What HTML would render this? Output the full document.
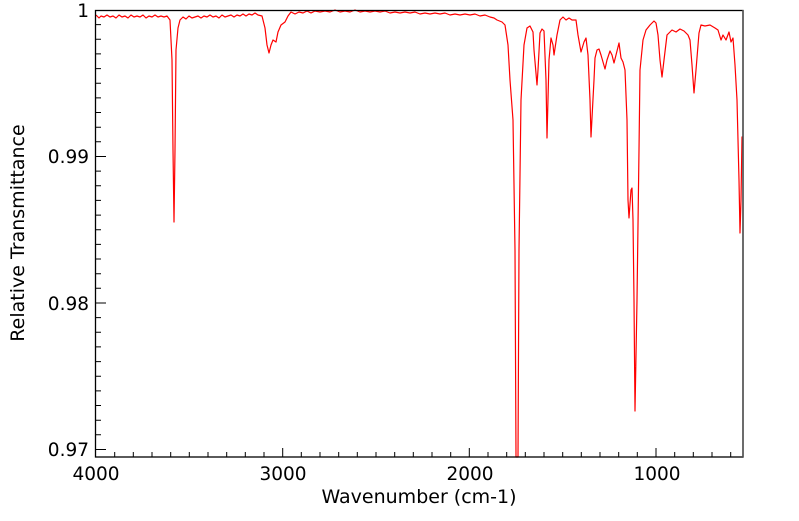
<!DOCTYPE html>
<html><head><style>
html,body{margin:0;padding:0;background:#fff;}
svg text{font-family:"DejaVu Sans","Liberation Sans",sans-serif;fill:#000;}
</style></head><body>
<svg width="799" height="516" xmlns="http://www.w3.org/2000/svg">
<path fill="none" stroke="#ff0000" stroke-width="1.2" stroke-linejoin="round" d="M96,15 L99,18 L101,16 L104,17 L107,15 L110,17 L113,16 L116,18 L119,15 L122,17 L125,16 L128,18 L131,15 L134,17 L137,16 L140,17 L143,15 L146,18 L149,16 L152,17 L155,15 L158,17 L161,16 L164,17 L167,16 L170,20 L172,60 L173,150 L174,222 L175,150 L176,50 L178,28 L180,20 L183,17 L186,19 L189,16 L192,18 L195,17 L198,16 L201,18 L204,16 L207,17 L210,15 L213,17 L216,16 L219,18 L222,15 L225,17 L228,16 L231,15 L234,17 L237,15 L240,16 L243,14 L246,16 L249,14 L252,15 L255,13 L258,15 L262,16 L265,28 L267,45 L269,53 L271,45 L273,40 L276,42 L278,32 L281,25 L285,22 L288,16 L291,12 L295,14 L299,12 L303,13 L307,11 L311,13 L315,11 L320,12 L325,11 L330,12 L335,10 L340,12 L345,11 L350,12 L355,10 L360,12 L365,11 L370,12 L375,11 L380,12 L385,11 L390,13 L395,12 L400,13 L405,12 L410,13 L415,12 L420,14 L425,13 L430,14 L435,13 L440,14 L445,13 L450,15 L455,14 L460,15 L465,14 L470,15 L475,14 L480,16 L485,15 L490,17 L494,18 L497,20 L502,22 L505,25 L508,45 L510,80 L513,120 L515,250 L516,457 L518,457 L519,250 L521,100 L524,45 L527,28 L530,26 L533,32 L534,50 L537,85 L538,70 L540,33 L542,29 L544,31 L546,80 L547,138 L549,60 L551,38 L553,45 L554,55 L557,35 L560,20 L563,17 L566,20 L569,18 L572,20 L576,20 L578,35 L581,52 L584,42 L586,38 L588,55 L590,100 L591,137 L594,80 L595,58 L597,50 L599,49 L601,55 L603,62 L605,69 L607,60 L610,51 L612,55 L614,63 L616,55 L619,43 L621,58 L623,62 L625,70 L627,120 L628,200 L629,218 L631,190 L632,188 L633,220 L634,300 L635,411 L637,300 L639,150 L640,70 L643,40 L646,30 L650,25 L654,21 L656,23 L658,35 L660,60 L662,77 L664,60 L667,35 L669,33 L672,30 L676,32 L680,29 L684,31 L688,35 L690,40 L692,65 L694,93 L696,70 L699,33 L701,25 L705,26 L710,25 L715,28 L718,30 L721,40 L723,35 L726,40 L729,32 L731,42 L733,38 L735,65 L737,100 L739,180 L740,233 L741,200 L742,137 L743,137"/>
<rect x="95.5" y="10.5" width="647.5" height="446.5" fill="none" stroke="#000" stroke-width="1.3"/>
<line x1="743" y1="10" x2="743" y2="457" stroke="#555" stroke-width="1.5"/>
<g font-size="18.5" text-anchor="end">
<text x="89" y="17">1</text>
<text x="89" y="163">0.99</text>
<text x="89" y="310">0.98</text>
<text x="89" y="456">0.97</text>
</g>
<g font-size="18.5" text-anchor="middle">
<text x="96" y="480">4000</text>
<text x="283" y="480">3000</text>
<text x="470" y="480">2000</text>
<text x="657" y="480">1000</text>
</g>
<g font-size="19" text-anchor="middle">
<text x="419" y="503">Wavenumber (cm-1)</text>
<text transform="translate(24,233) rotate(-90)">Relative Transmittance</text>
</g>
<g stroke="#000" stroke-width="1">
<path d="M96,24.6h5M96,39.3h5M96,53.9h5M96,68.6h5M96,83.2h5M96,97.9h5M96,112.5h5M96,127.2h5M96,141.8h5M96,156.5h10M96,171.1h5M96,185.8h5M96,200.4h5M96,215.1h5M96,229.7h5M96,244.4h5M96,259h5M96,273.7h5M96,288.3h5M96,303h10M96,317.6h5M96,332.3h5M96,346.9h5M96,361.6h5M96,376.2h5M96,390.9h5M96,405.5h5M96,420.2h5M96,434.8h5M96,449.5h10"/>
<path d="M114.7,457v-5M133.3,457v-5M152,457v-5M170.7,457v-5M189.3,457v-5M208,457v-5M226.7,457v-5M245.3,457v-5M264,457v-5M282.7,457v-9M301.3,457v-5M320,457v-5M338.7,457v-5M357.3,457v-5M376,457v-5M394.7,457v-5M413.3,457v-5M432,457v-5M450.7,457v-5M469.3,457v-9M488,457v-5M506.7,457v-5M525.3,457v-5M544,457v-5M562.7,457v-5M581.3,457v-5M600,457v-5M618.7,457v-5M637.3,457v-5M656,457v-9M674.7,457v-5M693.3,457v-5M712,457v-5M730.7,457v-5"/>
</g>
</svg>
</body></html>
